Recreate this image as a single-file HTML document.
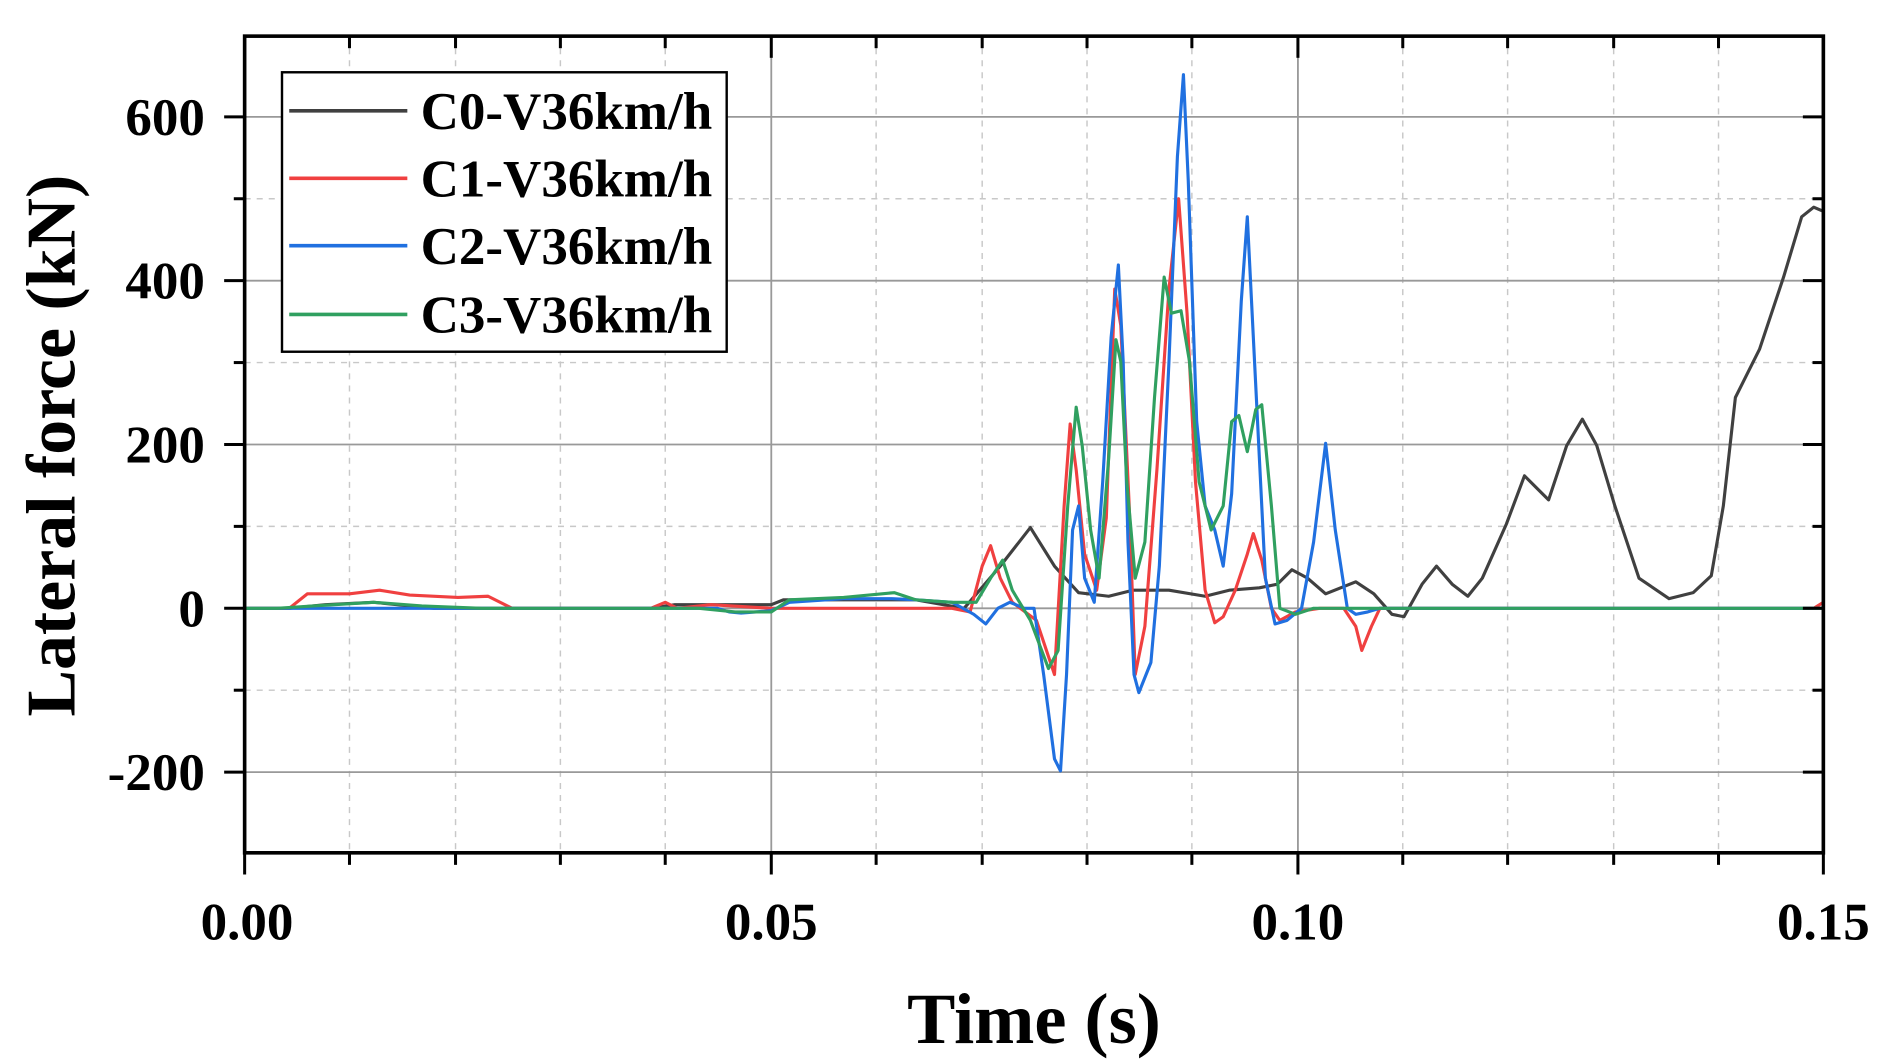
<!DOCTYPE html>
<html><head><meta charset="utf-8"><style>html,body{margin:0;padding:0;background:#fff}svg{display:block}</style></head>
<body>
<svg width="1880" height="1060" viewBox="0 0 1560 880" preserveAspectRatio="none" xmlns="http://www.w3.org/2000/svg" font-family="'Liberation Serif',serif" font-weight="bold">
<rect width="1560" height="880" fill="#fff"/>
<g stroke="#c8c8c8" stroke-width="1.2" stroke-dasharray="5,5">
<line x1="290" y1="30" x2="290" y2="708"/><line x1="378" y1="30" x2="378" y2="708"/><line x1="465" y1="30" x2="465" y2="708"/><line x1="552" y1="30" x2="552" y2="708"/>
<line x1="727" y1="30" x2="727" y2="708"/><line x1="815" y1="30" x2="815" y2="708"/><line x1="902" y1="30" x2="902" y2="708"/><line x1="989" y1="30" x2="989" y2="708"/>
<line x1="1164" y1="30" x2="1164" y2="708"/><line x1="1251" y1="30" x2="1251" y2="708"/><line x1="1339" y1="30" x2="1339" y2="708"/><line x1="1426" y1="30" x2="1426" y2="708"/>
<line x1="203" y1="165" x2="1513" y2="165"/><line x1="203" y1="301" x2="1513" y2="301"/><line x1="203" y1="437" x2="1513" y2="437"/><line x1="203" y1="573" x2="1513" y2="573"/>
</g>
<g stroke="#999" stroke-width="1.5">
<line x1="640" y1="30" x2="640" y2="708"/><line x1="1077" y1="30" x2="1077" y2="708"/>
<line x1="203" y1="97" x2="1513" y2="97"/><line x1="203" y1="233" x2="1513" y2="233"/><line x1="203" y1="369" x2="1513" y2="369"/><line x1="203" y1="505" x2="1513" y2="505"/><line x1="203" y1="641" x2="1513" y2="641"/>
</g>
<g fill="none" stroke-width="2.6" stroke-linejoin="round">
<polyline stroke="#404040" points="203,505 240,505 270,502 310,500 340,503 360,505 540,505 560,502 640,502 650,498 760,498 800,505 830,470 855,438 875,470 895,492 920,495 940,490 970,490 1000,495 1020,490 1045,488 1060,485 1072,473 1085,480 1100,493 1125,483 1140,493 1155,510 1165,512 1180,485 1192,470 1205,485 1218,495 1230,480 1250,435 1265,395 1275,405 1285,415 1300,370 1313,348 1325,370 1340,420 1360,480 1385,497 1405,492 1420,478 1430,420 1440,330 1460,290 1480,230 1495,180 1505,172 1512,175"/>
<polyline stroke="#f04040" points="203,505 240,505 255,493 290,493 315,490 340,494 380,496 405,495 425,505 540,505 552,500 562,505 590,502 640,505 790,505 805,508 815,470 822,453 830,480 840,500 860,515 875,560 883,420 888,352 893,390 900,460 910,490 918,430 925,240 930,270 937,420 942,560 950,520 960,390 970,240 978,165 985,260 992,400 1000,490 1008,517 1015,512 1025,490 1035,460 1040,443 1047,465 1055,505 1062,515 1075,508 1095,505 1115,505 1125,520 1130,540 1138,520 1145,505 1505,505 1513,500"/>
<polyline stroke="#2070e0" points="203,505 595,505 605,508 615,509 640,507 655,500 700,497 740,497 760,498 790,500 808,510 818,518 828,505 838,500 850,505 858,505 866,560 875,630 880,640 885,560 890,440 895,420 900,480 908,500 915,400 922,280 928,220 932,300 936,450 941,560 945,575 955,550 962,470 970,300 977,130 982,62 986,150 993,350 1000,420 1008,440 1015,470 1022,410 1030,250 1035,180 1042,320 1050,480 1058,518 1068,515 1080,505 1090,450 1100,368 1108,440 1118,505 1125,510 1135,508 1145,505 1513,505"/>
<polyline stroke="#30a060" points="203,505 230,505 260,503 310,500 350,503 400,505 580,505 610,508 640,508 655,498 700,496 742,492 760,498 790,500 810,500 822,480 832,465 840,490 855,515 870,555 878,540 886,420 893,338 898,370 905,440 912,480 920,380 926,282 930,300 935,400 942,480 950,450 958,330 966,230 972,260 980,258 987,300 995,400 1005,440 1015,420 1022,350 1028,345 1035,375 1042,340 1047,336 1055,420 1062,505 1075,510 1090,505 1513,505"/>
</g>
<g stroke="#000" stroke-width="3" fill="none">
<rect x="203" y="30" width="1310" height="678"/>
</g>
<g stroke="#000" stroke-width="2.5">
<line x1="186" y1="97" x2="203" y2="97"/><line x1="186" y1="233" x2="203" y2="233"/><line x1="186" y1="369" x2="203" y2="369"/><line x1="186" y1="505" x2="203" y2="505"/><line x1="186" y1="641" x2="203" y2="641"/>
<line x1="194" y1="165" x2="203" y2="165"/><line x1="194" y1="301" x2="203" y2="301"/><line x1="194" y1="437" x2="203" y2="437"/><line x1="194" y1="573" x2="203" y2="573"/>
<line x1="1496" y1="97" x2="1513" y2="97"/><line x1="1496" y1="233" x2="1513" y2="233"/><line x1="1496" y1="369" x2="1513" y2="369"/><line x1="1496" y1="505" x2="1513" y2="505"/><line x1="1496" y1="641" x2="1513" y2="641"/>
<line x1="1504" y1="165" x2="1513" y2="165"/><line x1="1504" y1="301" x2="1513" y2="301"/><line x1="1504" y1="437" x2="1513" y2="437"/><line x1="1504" y1="573" x2="1513" y2="573"/>
<line x1="203" y1="708" x2="203" y2="726"/><line x1="640" y1="708" x2="640" y2="726"/><line x1="1077" y1="708" x2="1077" y2="726"/><line x1="1513" y1="708" x2="1513" y2="726"/>
<line x1="640" y1="30" x2="640" y2="48"/><line x1="1077" y1="30" x2="1077" y2="48"/>
<line x1="290" y1="708" x2="290" y2="718"/><line x1="378" y1="708" x2="378" y2="718"/><line x1="465" y1="708" x2="465" y2="718"/><line x1="552" y1="708" x2="552" y2="718"/>
<line x1="727" y1="708" x2="727" y2="718"/><line x1="815" y1="708" x2="815" y2="718"/><line x1="902" y1="708" x2="902" y2="718"/><line x1="989" y1="708" x2="989" y2="718"/>
<line x1="1164" y1="708" x2="1164" y2="718"/><line x1="1251" y1="708" x2="1251" y2="718"/><line x1="1339" y1="708" x2="1339" y2="718"/><line x1="1426" y1="708" x2="1426" y2="718"/>
<line x1="290" y1="30" x2="290" y2="40"/><line x1="378" y1="30" x2="378" y2="40"/><line x1="465" y1="30" x2="465" y2="40"/><line x1="552" y1="30" x2="552" y2="40"/>
<line x1="727" y1="30" x2="727" y2="40"/><line x1="815" y1="30" x2="815" y2="40"/><line x1="902" y1="30" x2="902" y2="40"/><line x1="989" y1="30" x2="989" y2="40"/>
<line x1="1164" y1="30" x2="1164" y2="40"/><line x1="1251" y1="30" x2="1251" y2="40"/><line x1="1339" y1="30" x2="1339" y2="40"/><line x1="1426" y1="30" x2="1426" y2="40"/>
</g>
<g font-size="44" text-anchor="end" fill="#000">
<text x="170" y="112">600</text><text x="170" y="248">400</text><text x="170" y="384">200</text><text x="170" y="520">0</text><text x="170" y="656">-200</text>
</g>
<g font-size="44" text-anchor="middle" fill="#000">
<text x="205" y="780">0.00</text><text x="640" y="780">0.05</text><text x="1077" y="780">0.10</text><text x="1513" y="780">0.15</text>
</g>
<text x="858" y="866" font-size="60" text-anchor="middle">Time (s)</text>
<text transform="translate(62,370) rotate(-90)" font-size="58" text-anchor="middle">Lateral force (kN)</text>
<rect x="234" y="60" width="369" height="232" fill="#fff" stroke="#000" stroke-width="2"/>
<g stroke-width="3">
<line x1="240" y1="92" x2="338" y2="92" stroke="#404040"/>
<line x1="240" y1="148" x2="338" y2="148" stroke="#f04040"/>
<line x1="240" y1="204" x2="338" y2="204" stroke="#2070e0"/>
<line x1="240" y1="261" x2="338" y2="261" stroke="#30a060"/>
</g>
<g font-size="44" fill="#000">
<text x="349" y="107">C0-V36km/h</text><text x="349" y="163">C1-V36km/h</text><text x="349" y="219">C2-V36km/h</text><text x="349" y="276">C3-V36km/h</text>
</g>
</svg>
</body></html>
